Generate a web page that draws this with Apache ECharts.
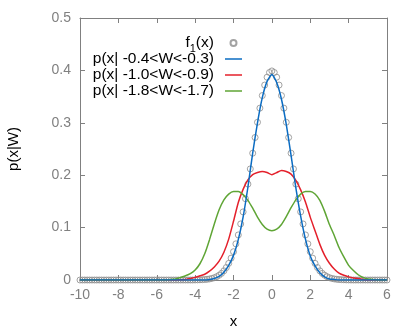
<!DOCTYPE html>
<html>
<head>
<meta charset="utf-8">
<script src="https://cdn.jsdelivr.net/npm/echarts@6/dist/echarts.min.js"></script>
<style>
  html, body { margin: 0; padding: 0; background: #fff; }
  #main { width: 415px; height: 332px; }
</style>
</head>
<body>
<div id="main"></div>
<script>
// f1(x) samples, x from -10 to 6 with step 0.125
const f1Start = -10
const f1Step = 0.125
const f1Y = [
  0, 0, 0, 0, 0, 0, 0, 0, 0, 0, 0, 0, 0, 0, 0, 0,
  0, 0, 0, 0, 0, 0, 0, 0, 0, 0, 0, 0, 0, 0, 0, 0,
  0, 0, 0, 0, 0, 0, 0, 0, 0, 0, 0, 0, 0, 0, 0, 0,
  0.0001, 0.0002, 0.0004, 0.0006, 0.0009, 0.0013, 0.002, 0.003, 0.0044, 0.0064, 0.0091, 0.0127, 0.0175, 0.0238, 0.0317, 0.0417,
  0.054, 0.069, 0.086, 0.107, 0.130, 0.155, 0.183, 0.212, 0.242, 0.272, 0.301, 0.328, 0.352, 0.372, 0.387, 0.396,
  0.399, 0.396, 0.387, 0.372, 0.352, 0.328, 0.301, 0.272, 0.242, 0.212, 0.183, 0.155, 0.130, 0.107, 0.086, 0.069,
  0.054, 0.0417, 0.0317, 0.0238, 0.0175, 0.0127, 0.0091, 0.0064, 0.0044, 0.003, 0.002, 0.0013, 0.0009, 0.0006, 0.0004, 0.0002,
  0.0001, 0, 0, 0, 0, 0, 0, 0, 0, 0, 0, 0, 0, 0, 0, 0,
  0
]

// curves, x from -10 to 6 with step 0.25
const curveStart = -10
const curveStep = 0.25
const blueY = [
  0, 0, 0, 0, 0, 0, 0, 0, 0, 0, 0, 0, 0, 0, 0, 0,
  0, 0, 0, 0, 0, 0, 0, 0, 0, 0, 0, 0.001, 0.003, 0.007, 0.015, 0.028,
  0.047, 0.077, 0.120, 0.177, 0.242, 0.300, 0.348, 0.379, 0.392, 0.377, 0.345, 0.297, 0.238, 0.176, 0.122, 0.078,
  0.046, 0.027, 0.014, 0.006, 0.002, 0.001, 0, 0, 0, 0, 0, 0, 0, 0, 0, 0,
  0
]
const redY = [
  0, 0, 0, 0, 0, 0, 0, 0, 0, 0, 0, 0, 0, 0, 0, 0,
  0, 0, 0, 0, 0, 0.0005, 0.001, 0.003, 0.005, 0.008, 0.011, 0.017, 0.025, 0.036, 0.053, 0.078,
  0.112, 0.148, 0.173, 0.191, 0.201, 0.205, 0.207, 0.205, 0.201, 0.205, 0.209, 0.207, 0.202, 0.190, 0.172, 0.149,
  0.120, 0.094, 0.068, 0.047, 0.032, 0.021, 0.013, 0.009, 0.006, 0.004, 0.003, 0.001, 0, 0, 0, 0,
  0
]
const greenY = [
  0, 0, 0, 0, 0, 0, 0, 0, 0, 0, 0, 0, 0, 0, 0, 0,
  0, 0, 0, 0.001, 0.002, 0.005, 0.008, 0.012, 0.019, 0.031, 0.050, 0.077, 0.107, 0.134, 0.153, 0.164,
  0.169, 0.169, 0.163, 0.152, 0.137, 0.120, 0.106, 0.097, 0.094, 0.097, 0.106, 0.121, 0.138, 0.153, 0.164, 0.169,
  0.169, 0.164, 0.152, 0.131, 0.106, 0.085, 0.062, 0.044, 0.028, 0.018, 0.010, 0.005, 0.002, 0.001, 0, 0,
  0
]

const names = ['f1(x)', 'p(x| -0.4<W<-0.3)', 'p(x| -1.0<W<-0.9)', 'p(x| -1.8<W<-1.7)']
const colors = ['#8c8c8c', '#0b6cc2', '#e4202b', '#5fa535']
const xTicks = { min: -10, max: 6, interval: 2 }
const yTicks = { min: 0, max: 0.5, interval: 0.1 }

const toPairs = (ys, start, step) => ys.map((y, i) => [start + i * step, y])

const font = 'Liberation Sans, Arial, sans-serif'
const gray = '#808080'
const lineIcon = 'path://M0,0L17,0L17,1.5L0,1.5Z'

function axisX(pos, labels) {
  return {
    type: 'value', position: pos, ...xTicks,
    name: labels ? 'x' : '', nameLocation: 'middle', nameGap: 34,
    nameTextStyle: { color: '#000', fontSize: 15, fontFamily: font },
    axisLine: { show: true, onZero: false, lineStyle: { color: gray, width: 1 } },
    axisTick: { show: true, inside: true, length: 5, lineStyle: { color: gray } },
    axisLabel: { show: labels, color: gray, fontSize: 14, fontFamily: font, margin: 8 },
    splitLine: { show: false }
  }
}
function axisY(pos, labels) {
  return {
    type: 'value', position: pos, ...yTicks,
    name: labels ? 'p(x|W)' : '', nameLocation: 'middle', nameGap: 59,
    nameTextStyle: { color: '#000', fontSize: 15, fontFamily: font },
    axisLine: { show: true, onZero: false, lineStyle: { color: gray, width: 1 } },
    axisTick: { show: true, inside: true, length: 5, lineStyle: { color: gray } },
    axisLabel: { show: labels, color: gray, fontSize: 14, fontFamily: font, margin: 9 },
    splitLine: { show: false }
  }
}

const option = {
  animation: false,
  grid: { left: 80, right: 28, top: 18, bottom: 52, containLabel: false, outerBoundsMode: 'none' },
  xAxis: [axisX('bottom', true), axisX('top', false)],
  yAxis: [axisY('left', true), axisY('right', false)],
  legend: {
    orient: 'vertical',
    align: 'right',
    right: 168,
    top: 27,
    itemGap: -6,
    itemWidth: 17,
    itemHeight: 6,
    data: [
      { name: names[0], icon: 'circle' },
      { name: names[1], icon: lineIcon },
      { name: names[2], icon: lineIcon },
      { name: names[3], icon: lineIcon }
    ],
    formatter(name) {
      if (name === names[0]) return '{a|f}{s|1}{b|(x)}{z| }'
      return '{b|' + name + '}{z| }'
    },
    textStyle: {
      color: '#000',
      fontSize: 15.5,
      fontFamily: font,
      lineHeight: 16,
      rich: {
        a: { fontSize: 15.5, fontFamily: font, lineHeight: 16 },
        s: { fontSize: 11, fontFamily: font, lineHeight: 16, padding: [11, 0, 0, 0] },
        b: { fontSize: 15.5, fontFamily: font, lineHeight: 16, padding: [0, 3, 0, 0] },
        z: { fontSize: 11, fontFamily: font, lineHeight: 16, padding: [11, 0, 0, 0] }
      }
    }
  },
  series: [
    {
      name: names[0],
      type: 'scatter',
      data: toPairs(f1Y, f1Start, f1Step),
      symbol: 'circle',
      symbolSize: 6,
      itemStyle: { color: 'rgba(0,0,0,0)', borderColor: colors[0], borderWidth: 1 },
      z: 1
    },
    {
      name: names[1],
      type: 'line',
      data: toPairs(blueY, curveStart, curveStep),
      showSymbol: false,
      symbol: 'none',
      smooth: 0.2,
      lineStyle: { color: colors[1], width: 1.5 },
      itemStyle: { color: colors[1] },
      z: 3
    },
    {
      name: names[2],
      type: 'line',
      data: toPairs(redY, curveStart, curveStep),
      showSymbol: false,
      symbol: 'none',
      smooth: 0.2,
      lineStyle: { color: colors[2], width: 1.5 },
      itemStyle: { color: colors[2] },
      z: 2
    },
    {
      name: names[3],
      type: 'line',
      data: toPairs(greenY, curveStart, curveStep),
      showSymbol: false,
      symbol: 'none',
      smooth: 0.2,
      lineStyle: { color: colors[3], width: 1.5 },
      itemStyle: { color: colors[3] },
      z: 2
    }
  ]
}

let chart = echarts.init(document.getElementById('main'))
chart.setOption(option)
</script>
</body>
</html>
